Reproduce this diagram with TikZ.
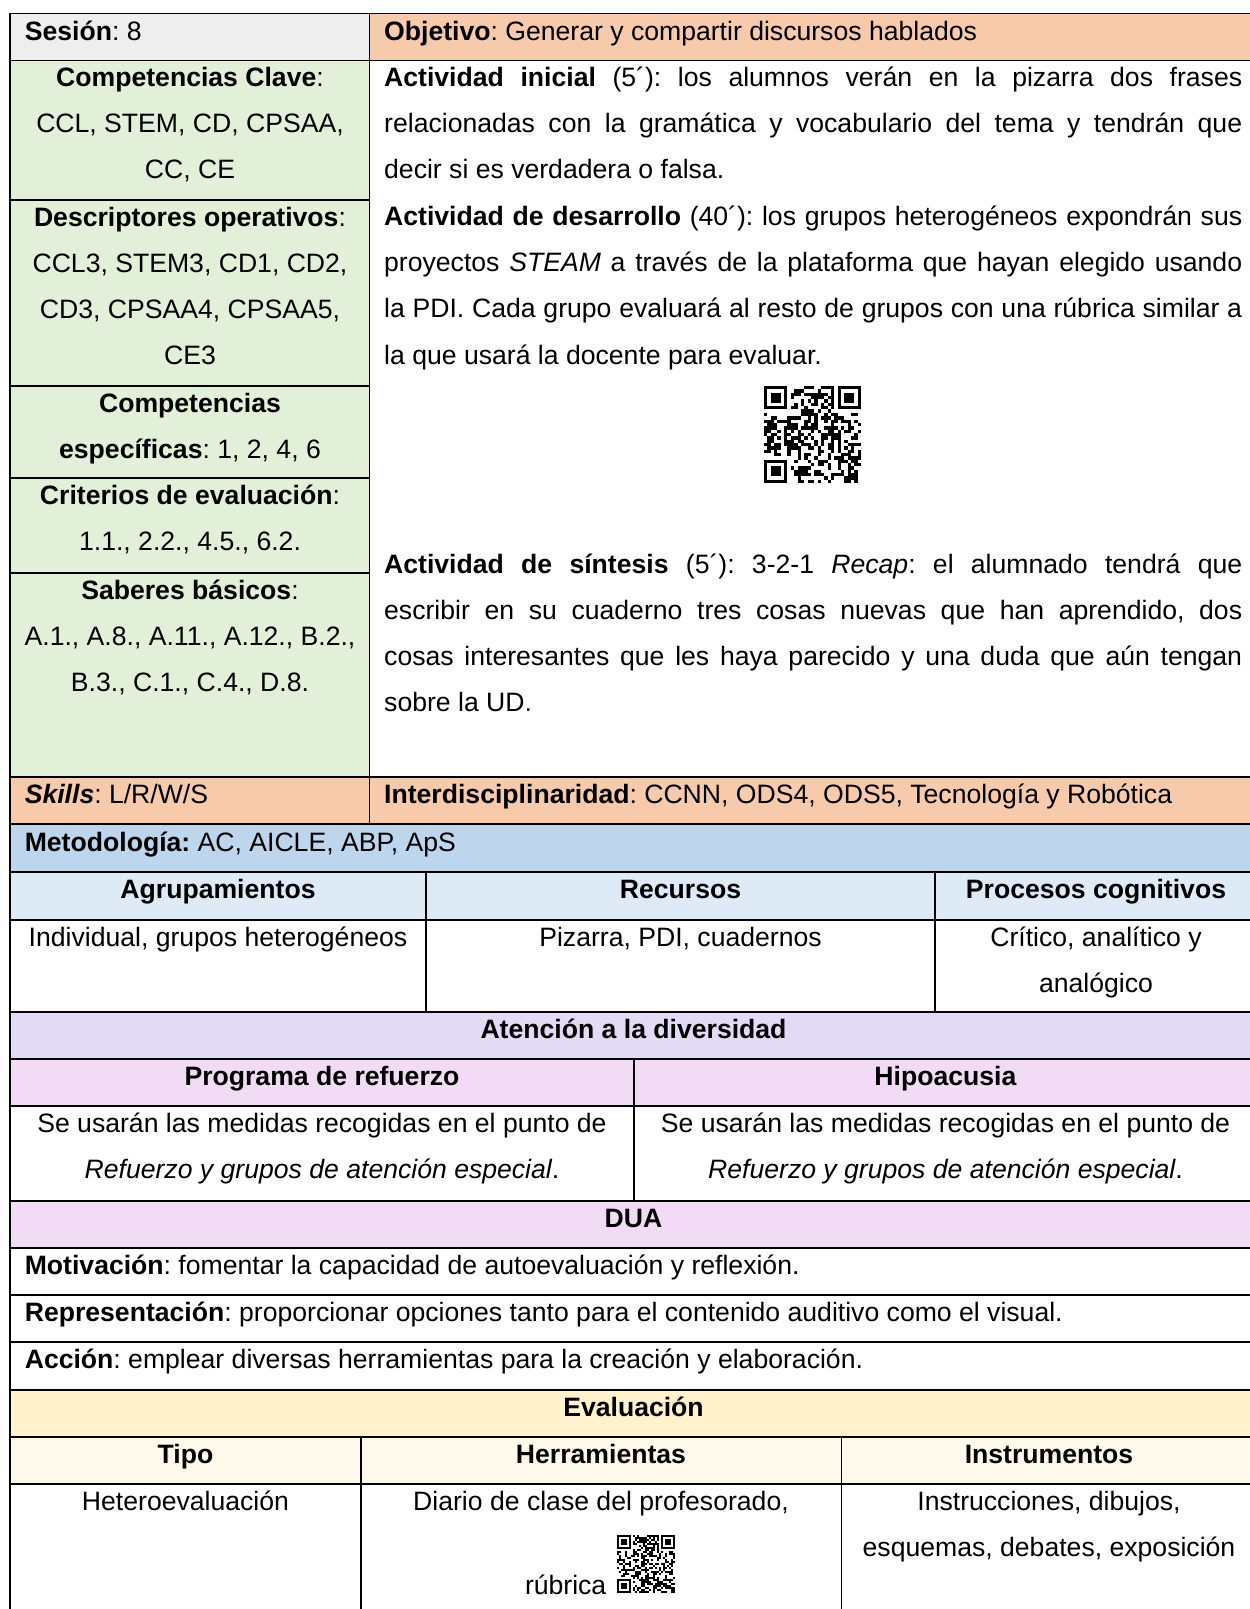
\documentclass[tikz,border=0pt]{standalone}
\usepackage{fontspec}
\setmainfont{Liberation Sans}
\frenchspacing
\definecolor{gris}{HTML}{EEEEEE}
\definecolor{melocoton}{HTML}{F7CAAC}
\definecolor{verde}{HTML}{E2EFD9}
\definecolor{azul}{HTML}{BDD6EE}
\definecolor{azulclaro}{HTML}{DEEAF6}
\definecolor{lavanda}{HTML}{E3DAF6}
\definecolor{rosa}{HTML}{F2DCF5}
\definecolor{oro}{HTML}{FFF2CC}
\definecolor{crema}{HTML}{FFF9EC}
% pseudo QR code: #1 x, #2 y (top-left), #3 module size, #4 seed
\newcommand\fakeqr[4]{%
  \pgfmathsetseed{#4}%
  \foreach \qi in {0,...,28}{%
    \foreach \qj in {0,...,28}{%
      \pgfmathrandominteger{\qrr}{0}{1}%
      \ifnum\qrr=1 \fill (#1+\qi*#3,#2+\qj*#3) rectangle ++(#3,#3);\fi
    }%
  }%
  \fill[white] (#1,#2) rectangle ++(8*#3,8*#3);
  \fill[white] (#1+21*#3,#2) rectangle ++(8*#3,8*#3);
  \fill[white] (#1,#2+21*#3) rectangle ++(8*#3,8*#3);
  \foreach \qa/\qb in {0/0,22/0,0/22}{%
    \fill (#1+\qa*#3,#2+\qb*#3) rectangle ++(7*#3,7*#3);
    \fill[white] (#1+\qa*#3+#3,#2+\qb*#3+#3) rectangle ++(5*#3,5*#3);
    \fill (#1+\qa*#3+2*#3,#2+\qb*#3+2*#3) rectangle ++(3*#3,3*#3);
  }%
}
\begin{document}
\frenchspacing
\begin{tikzpicture}[x=1pt,y=-1pt,
  every node/.style={inner sep=0pt,font=\fontsize{26.6}{46.2}\selectfont\frenchspacing},
  txt/.style={anchor=base west},
  ctr/.style={anchor=base},
  rule/.style={line width=1.7pt},
  innerrule/.style={line width=1.2pt}]
\useasboundingbox (0,0) rectangle (1250,1609);
\clip (0,0) rectangle (1250,1609);
% fills
\fill[white] (0,0) rectangle (1250,1609);
\fill[gris] (10,13.5) rectangle (369.5,60.5);
\fill[melocoton] (369.5,13.5) rectangle (1260,60.5);
\fill[verde] (10,60.5) rectangle (369.5,777);
\fill[melocoton] (10,777) rectangle (1260,824);
\fill[azul] (10,824) rectangle (1260,872);
\fill[azulclaro] (10,872) rectangle (1260,920);
\fill[lavanda] (10,1012) rectangle (1260,1059);
\fill[rosa] (10,1059) rectangle (1260,1106);
\fill[rosa] (10,1201) rectangle (1260,1248);
\fill[oro] (10,1390) rectangle (1260,1437);
\fill[crema] (10,1437) rectangle (1260,1484);
% horizontal rules
\foreach \yy in {13.5,60.5,777,824,872,920,1012,1059,1106,1201,1248,1295,1342,1390,1437,1484}{
  \draw[rule] (9,\yy) -- (1260,\yy);
}
\foreach \yy in {200,386,478,573}{
  \draw[rule] (10,\yy) -- (369.5,\yy);
}
% vertical rules
\draw[rule] (10,12.7) -- (10,1620);
\draw[rule] (1257,12.7) -- (1257,1620);
\draw[innerrule] (369.5,13.5) -- (369.5,824);
\draw[innerrule] (426,872) -- (426,1012);
\draw[innerrule] (935,872) -- (935,1012);
\draw[innerrule] (634,1059) -- (634,1201);
\draw[innerrule] (361,1437) -- (361,1620);
\draw[innerrule] (841.5,1437) -- (841.5,1620);
% row 1
\node[txt] (ses) at (24.6,40) {\textbf{Sesión}: 8};
\node[txt] (obj) at (384,40) {\textbf{Objetivo}: Generar y compartir discursos hablados};
% left column
\node[ctr] (cc1) at (190,86.5) {\textbf{Competencias Clave}:};
\node[ctr] (cc2) at (190,132.7) {CCL, STEM, CD, CPSAA,};
\node[ctr] (cc3) at (190,178.9) {CC, CE};
\node[ctr] (do1) at (190,226) {\textbf{Descriptores operativos}:};
\node[ctr] (do2) at (190,272.2) {CCL3, STEM3, CD1, CD2,};
\node[ctr] (do3) at (190,318.4) {CD3, CPSAA4, CPSAA5,};
\node[ctr] (do4) at (190,364.6) {CE3};
\node[ctr] (ce1) at (190,412) {\textbf{Competencias}};
\node[ctr] (ce2) at (190,458.2) {\textbf{específicas}: 1, 2, 4, 6};
\node[ctr] (cr1) at (190,504.5) {\textbf{Criterios de evaluación}:};
\node[ctr] (cr2) at (190,550.7) {1.1., 2.2., 4.5., 6.2.};
\node[ctr] (sb1) at (190,599) {\textbf{Saberes básicos}:};
\node[ctr] (sb2) at (190,645.2) {A.1., A.8., A.11., A.12., B.2.,};
\node[ctr] (sb3) at (190,691.4) {B.3., C.1., C.4., D.8.};
% right column
\node[txt] (ai1) at (384,86.5) {\makebox[858pt][s]{\textbf{Actividad inicial} (5´): los alumnos verán en la pizarra dos frases}};
\node[txt] (ai2) at (384,132.7) {\makebox[858pt][s]{relacionadas con la gramática y vocabulario del tema y tendrán que}};
\node[txt] (ai3) at (384,178.9) {decir si es verdadera o falsa.};
\node[txt] (ad1) at (384,225.5) {\makebox[858pt][s]{\textbf{Actividad de desarrollo} (40´): los grupos heterogéneos expondrán sus}};
\node[txt] (ad2) at (384,271.7) {\makebox[858pt][s]{proyectos \textit{STEAM} a través de la plataforma que hayan elegido usando}};
\node[txt] (ad3) at (384,317.9) {\makebox[858pt][s]{la PDI. Cada grupo evaluará al resto de grupos con una rúbrica similar a}};
\node[txt] (ad4) at (384,364.1) {la que usará la docente para evaluar.};
\fakeqr{764}{386}{3.35}{4217}
\node[txt] (as1) at (384,573) {\makebox[858pt][s]{\textbf{Actividad de síntesis} (5´): 3-2-1 \textit{Recap}: el alumnado tendrá que}};
\node[txt] (as2) at (384,619.2) {\makebox[858pt][s]{escribir en su cuaderno tres cosas nuevas que han aprendido, dos}};
\node[txt] (as3) at (384,665.4) {\makebox[858pt][s]{cosas interesantes que les haya parecido y una duda que aún tengan}};
\node[txt] (as4) at (384,711.6) {sobre la UD.};
% skills row
\node[txt] (sk) at (24.6,803.5) {\textbf{\textit{Skills}}: L/R/W/S};
\node[txt] (int) at (384,803.5) {\textbf{Interdisciplinaridad}: CCNN, ODS4, ODS5, Tecnología y Robótica};
\node[txt] (met) at (24.6,851) {\textbf{Metodología:} AC, AICLE, ABP, ApS};
% agrupamientos
\node[ctr] (hag) at (218,898.5) {\textbf{Agrupamientos}};
\node[ctr] (hre) at (680.5,898.5) {\textbf{Recursos}};
\node[ctr] (hpc) at (1096,898.5) {\textbf{Procesos cognitivos}};
\node[ctr] (cag) at (218,946.5) {Individual, grupos heterogéneos};
\node[ctr] (cre) at (680.5,946.5) {Pizarra, PDI, cuadernos};
\node[ctr] (cpc1) at (1096,946.5) {Crítico, analítico y};
\node[ctr] (cpc2) at (1096,992.7) {analógico};
% atencion
\node[ctr] (ate) at (633.5,1038) {\textbf{Atención a la diversidad}};
\node[ctr] (hpr) at (322,1085) {\textbf{Programa de refuerzo}};
\node[ctr] (hhi) at (945.5,1085) {\textbf{Hipoacusia}};
\node[ctr] (pr1) at (322,1132) {Se usarán las medidas recogidas en el punto de};
\node[ctr] (pr2) at (322,1178.2) {\textit{Refuerzo y grupos de atención especial}.};
\node[ctr] (hi1) at (945.5,1132) {Se usarán las medidas recogidas en el punto de};
\node[ctr] (hi2) at (945.5,1178.2) {\textit{Refuerzo y grupos de atención especial}.};
% DUA
\node[ctr] (dua) at (633.5,1227) {\textbf{DUA}};
\node[txt] (mot) at (24.6,1274) {\textbf{Motivación}: fomentar la capacidad de autoevaluación y reflexión.};
\node[txt] (rep) at (24.6,1321) {\textbf{Representación}: proporcionar opciones tanto para el contenido auditivo como el visual.};
\node[txt] (acc) at (24.6,1368) {\textbf{Acción}: emplear diversas herramientas para la creación y elaboración.};
% evaluacion
\node[ctr] (eva) at (633.5,1416) {\textbf{Evaluación}};
\node[ctr] (hti) at (185.5,1463) {\textbf{Tipo}};
\node[ctr] (hhe) at (601,1463) {\textbf{Herramientas}};
\node[ctr] (hin) at (1049,1463) {\textbf{Instrumentos}};
\node[ctr] (cti) at (185.5,1510) {Heteroevaluación};
\node[ctr] (che) at (601,1510) {Diario de clase del profesorado,};
\node[anchor=base east] (rub) at (606.5,1594) {rúbrica};
\fakeqr{617}{1535}{2}{9311}
\node[ctr] (cin1) at (1049,1510) {Instrucciones, dibujos,};
\node[ctr] (cin2) at (1049,1556.2) {esquemas, debates, exposición};
\end{tikzpicture}
\end{document}
